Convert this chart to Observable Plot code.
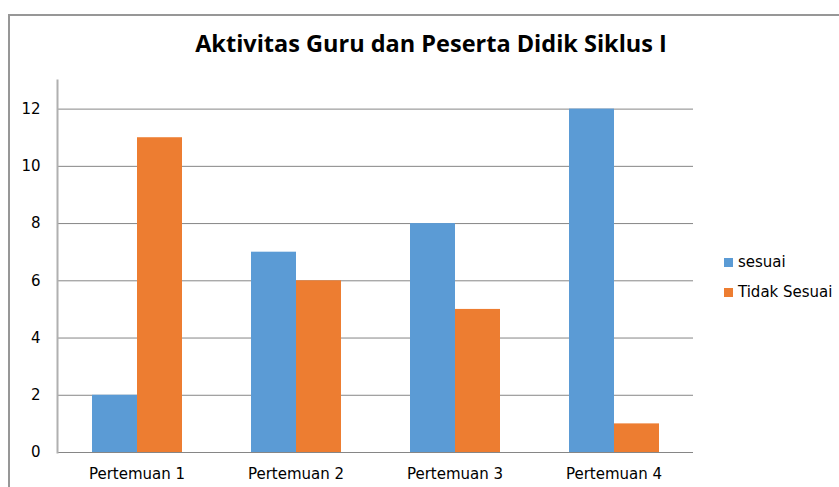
<!DOCTYPE html>
<html>
<head>
<meta charset="utf-8">
<script src="https://cdn.jsdelivr.net/npm/d3@7"></script>
<script src="https://cdn.jsdelivr.net/npm/@observablehq/plot@0.6"></script>
<style>
  body { margin: 0; background: #fff; }
  #wrap { position: relative; width: 839px; height: 487px; overflow: hidden; background: #fff; }
  #frame { position: absolute; left: 8px; top: 14px; width: 840px; height: 480px; border-left: 2px solid #979797; border-top: 2px solid #979797; }
  #title { position: absolute; left: 0; width: 862px; top: 27px; text-align: center; font: bold 23.5px "Open Sans", sans-serif; color: #000; }
  #chart { position: absolute; left: 0; top: 0; }
  .leg { position: absolute; left: 724px; font: 15px "DejaVu Sans", sans-serif; color: #000; }
  .leg span { display: inline-block; width: 9px; height: 9px; margin-right: 5px; }
</style>
</head>
<body>
<div id="wrap">
  <div id="frame"></div>
  <div id="chart"></div>
  <div id="title">Aktivitas Guru dan Peserta Didik Siklus I</div>
  <div id="legend"></div>
</div>
<script>
const categories = ["Pertemuan 1", "Pertemuan 2", "Pertemuan 3", "Pertemuan 4"];
const seriesNames = ["sesuai", "Tidak Sesuai"];
const sesuai = [2, 7, 8, 12];
const tidakSesuai = [11, 6, 5, 1];
const yTicks = [0, 2, 4, 6, 8, 10, 12];
const colors = ["#5B9BD5", "#ED7D31"];

const data = [];
categories.forEach((c, i) => {
  data.push({cat: c, series: seriesNames[0], value: sesuai[i]});
  data.push({cat: c, series: seriesNames[1], value: tidakSesuai[i]});
});

const chart = Plot.plot({
  width: 839,
  height: 487,
  marginLeft: 57,
  marginRight: 146,
  marginTop: 80,
  marginBottom: 35,
  style: {fontFamily: "DejaVu Sans, sans-serif", fontSize: "15px", color: "#000", background: "transparent"},
  fx: {domain: categories, paddingInner: 0, paddingOuter: 0, label: null, axis: null},
  x: {domain: seriesNames, paddingInner: 0, paddingOuter: 0.75, axis: null},
  y: {domain: [0, 13], ticks: yTicks, label: null, axis: null},
  color: {domain: seriesNames, range: colors},
  marks: [
    Plot.gridY(yTicks, {stroke: "#868686", strokeOpacity: 1, strokeWidth: 1}),
    Plot.barY(data, {fx: "cat", x: "series", y: "value", fill: "series"}),
    Plot.axisY(yTicks, {tickSize: 0, tickPadding: 17, label: null, fontSize: 15}),
    Plot.axisFx({anchor: "bottom", tickSize: 0, tickPadding: 16, label: null, fontSize: 15}),
    Plot.frame({anchor: "left", facet: "super", stroke: "#b0b0b0", strokeWidth: 2})
  ]
});
document.getElementById("chart").appendChild(chart);

const leg = document.getElementById("legend");
seriesNames.forEach((s, i) => {
  const d = document.createElement("div");
  d.className = "leg";
  d.style.top = (253 + i * 30) + "px";
  d.innerHTML = `<span style="background:${colors[i]}"></span>${s}`;
  leg.appendChild(d);
});
</script>
</body>
</html>
